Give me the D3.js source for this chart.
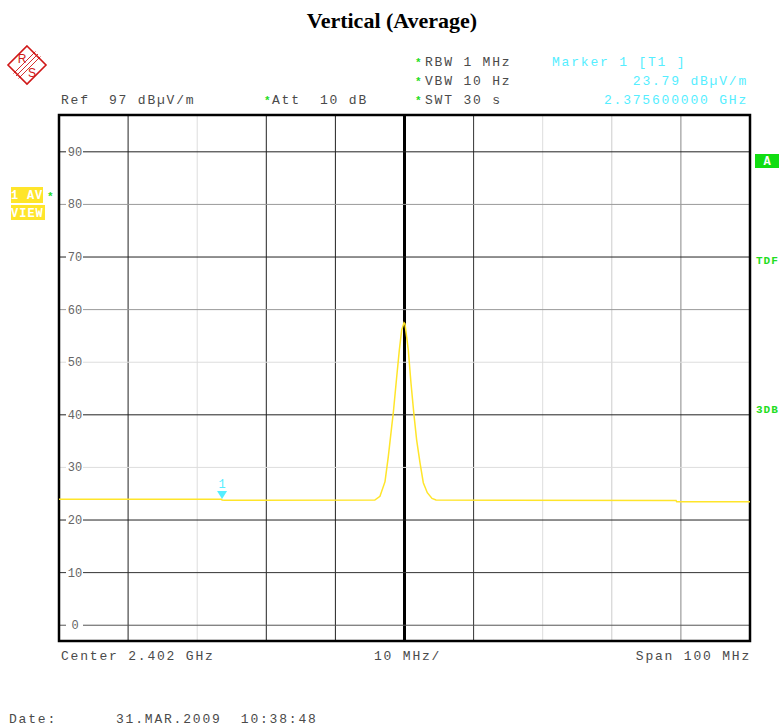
<!DOCTYPE html>
<html>
<head>
<meta charset="utf-8">
<script src="https://cdn.jsdelivr.net/npm/d3@7"></script>
<style>
body { margin: 0; background: #fff; }
text { font-family: "Liberation Mono", "DejaVu Sans Mono", monospace; }
.info { font-size: 13px; letter-spacing: 1.8px; }
</style>
</head>
<body>
<div id="chart"></div>
<script>
const width = 783;
const height = 727;

// trace data (frequency in MHz, level in dBuV/m)
const freqs = [2352.0, 2375.5, 2375.6, 2376.0, 2397.7, 2398.45, 2399.18, 2399.66, 2400.15, 2400.38, 2400.87, 2401.25, 2401.59, 2401.93, 2402.07, 2402.55, 2402.94, 2403.37, 2403.76, 2404.24, 2404.72, 2405.30, 2405.98, 2406.56, 2441.3, 2441.4, 2452.0];
const levels = [23.95, 23.95, 23.79, 23.75, 23.8, 24.5, 27.3, 32.1, 37.8, 40.4, 47.2, 52.3, 56.1, 57.5, 57.3, 52.3, 46.0, 40.0, 35.2, 30.9, 27.1, 25.2, 24.1, 23.8, 23.7, 23.45, 23.45];
const yTicks = [0, 10, 20, 30, 40, 50, 60, 70, 80, 90];
const xTicks = [2362, 2372, 2382, 2392, 2402, 2412, 2422, 2432, 2442];
const marker = { freq: 2375.6, level: 23.79 };

const gridShadeY = ["#555", "#333", "#222", "#ddd", "#222", "#ddd", "#999", "#222", "#999", "#222"];
const gridShadeX = ["#222", "#ddd", "#222", "#222", "#000", "#333", "#ddd", "#ccc", "#888"];

let svg = d3.select("#chart").append("svg").attr("width", width).attr("height", height);

const x = d3.scaleLinear().domain([2352, 2452]).range([59, 750]);
const y = d3.scaleLinear().domain([-3, 97]).range([641, 115]);

// title
svg.append("text").attr("x", 392).attr("y", 28).attr("text-anchor", "middle")
	.style("font-family", "'Liberation Serif', serif").style("font-weight", "bold").style("font-size", "22px")
	.text("Vertical (Average)");

// R&S logo
const red = "#d01818";
let logo = svg.append("g").attr("transform", "translate(27,65)");
logo.append("path").attr("d", "M0,-19 L19,0 L0,19 L-19,0 Z").attr("fill", "none").attr("stroke", red).attr("stroke-width", 1.6);
[-2.5, 0, 2.5].forEach(o => logo.append("line").attr("x1", -11 + o).attr("y1", 11 + o).attr("x2", 11 + o).attr("y2", -11 + o)
	.attr("stroke", red).attr("stroke-width", 0.9));
logo.append("text").attr("x", -5).attr("y", -2).attr("text-anchor", "middle").style("font-family", "'Liberation Sans', sans-serif").style("font-size", "12px").attr("fill", red).text("R");
logo.append("text").attr("x", 5).attr("y", 12).attr("text-anchor", "middle").style("font-family", "'Liberation Sans', sans-serif").style("font-size", "12px").attr("fill", red).text("S");

const textGray = "#4a4a4a";
const green = "#22dd22";
const cyan = "#55eeff";

function star(px, py) {
	svg.append("text").attr("x", px).attr("y", py).attr("fill", green).style("font-size", "11px").style("font-weight", "bold").text("*");
}
function info(px, py, s, color, anchor) {
	return svg.append("text").attr("class", "info").attr("x", px).attr("y", py).attr("fill", color || textGray)
		.attr("text-anchor", anchor || "start").attr("xml:space", "preserve").text(s);
}

info(61, 104, "Ref  97 dBµV/m");
star(264, 104);
info(272, 104, "Att  10 dB");

const settings = ["RBW 1 MHz", "VBW 10 Hz", "SWT 30 s"];
settings.forEach((s, i) => {
	star(415, 66 + i * 19);
	info(425, 66 + i * 19, s);
});

info(552, 66, "Marker 1 [T1 ]", cyan);
info(748, 85, marker.level.toFixed(2) + " dBµV/m", cyan, "end");
info(748, 104, (marker.freq / 1000).toFixed(9) + " GHz", cyan, "end");

// grid
let grid = svg.append("g");
grid.selectAll(".hx").data(xTicks).enter().append("line")
	.attr("x1", d => x(d)).attr("x2", d => x(d)).attr("y1", y(97)).attr("y2", y(-3))
	.attr("stroke", (d, i) => gridShadeX[i]).attr("stroke-width", (d, i) => i === 4 ? 3 : 1);
grid.selectAll(".hy").data(yTicks).enter().append("line")
	.attr("x1", x(2352)).attr("x2", x(2452)).attr("y1", d => y(d)).attr("y2", d => y(d))
	.attr("stroke", (d, i) => gridShadeY[i]).attr("stroke-width", 1);
grid.selectAll(".lb").data(yTicks).enter().append("rect")
	.attr("x", 66).attr("y", d => y(d) - 7).attr("width", 17).attr("height", 14).attr("fill", "#fff");
grid.selectAll(".lt").data(yTicks).enter().append("text")
	.attr("x", 75).attr("y", d => y(d) + 4).attr("text-anchor", "middle").attr("fill", "#666").style("font-size", "12px")
	.text(d => d);

// frame
svg.append("rect").attr("x", x(2352)).attr("y", y(97)).attr("width", x(2452) - x(2352)).attr("height", y(-3) - y(97))
	.attr("fill", "none").attr("stroke", "#000").attr("stroke-width", 2.5);

// trace
const line = d3.line().x(d => x(d[0])).y(d => y(d[1]));
svg.append("path").datum(d3.zip(freqs, levels)).attr("d", line)
	.attr("fill", "none").attr("stroke", "#ffe52a").attr("stroke-width", 1.5);

// marker
const mx = x(marker.freq), my = y(marker.level);
svg.append("path").attr("d", `M${mx - 5},${my - 9} L${mx + 5},${my - 9} L${mx},${my - 1} Z`).attr("fill", cyan);
svg.append("text").attr("x", mx).attr("y", my - 12).attr("text-anchor", "middle").attr("fill", cyan).style("font-size", "12px").text("1");

// left labels
svg.append("rect").attr("x", 11).attr("y", 187).attr("width", 32).attr("height", 16).attr("fill", "#ffe52a");
svg.append("text").attr("x", 11).attr("y", 199).attr("fill", "#fff").style("font-size", "12px").style("font-weight", "bold").style("letter-spacing", "0.8px").attr("xml:space", "preserve").text("1 AV");
star(47, 200);
svg.append("rect").attr("x", 11).attr("y", 205).attr("width", 34).attr("height", 15).attr("fill", "#ffe52a");
svg.append("text").attr("x", 11).attr("y", 217).attr("fill", "#fff").style("font-size", "12px").style("font-weight", "bold").style("letter-spacing", "1px").text("VIEW");

// right labels
svg.append("rect").attr("x", 755).attr("y", 154).attr("width", 24).attr("height", 14).attr("fill", "#11dd11");
svg.append("text").attr("x", 767).attr("y", 165).attr("text-anchor", "middle").attr("fill", "#fff").style("font-size", "12px").style("font-weight", "bold").text("A");
svg.append("text").attr("x", 756).attr("y", 264).attr("fill", green).style("font-size", "11px").style("font-weight", "bold").style("letter-spacing", "1px").text("TDF");
svg.append("text").attr("x", 756).attr("y", 413).attr("fill", green).style("font-size", "11px").style("font-weight", "bold").style("letter-spacing", "1px").text("3DB");

// bottom
info(61, 660, "Center 2.402 GHz");
info(374, 660, "10 MHz/");
info(751, 660, "Span 100 MHz", textGray, "end");
info(9, 723, "Date:");
info(116, 723, "31.MAR.2009  10:38:48");
</script>
</body>
</html>
